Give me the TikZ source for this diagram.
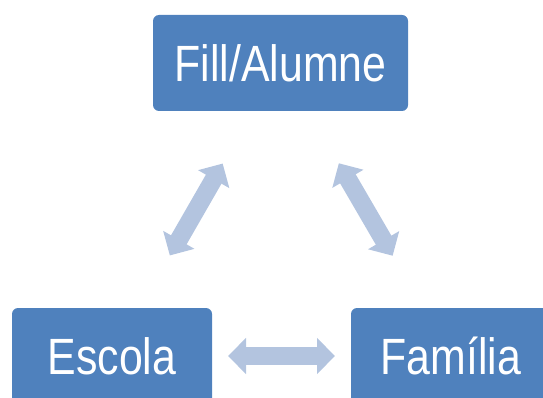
\documentclass[tikz,border=0pt]{standalone}
\usepackage{fontspec}
\setmainfont{Liberation Sans}[FakeStretch=0.84]
\usetikzlibrary{arrows.meta}
\definecolor{boxblue}{HTML}{4F81BD}
\definecolor{linkblue}{HTML}{B3C4DF}
\tikzset{
  role/.style={fill=boxblue, draw=none, rounded corners=6pt, text=white,
    minimum height=96pt, inner sep=0pt,
    font=\fontsize{51}{60}\selectfont},
  link/.style={draw=linkblue, line width=18pt,
    {Triangle[length=18pt,width=35pt]}-{Triangle[length=18pt,width=35pt]},
    shorten <=116pt, shorten >=116pt}
}
\begin{document}
\begin{tikzpicture}[x=1pt,y=-1pt]
  \useasboundingbox (0,0) rectangle (543,398);
  \clip (0,0) rectangle (543,398);
  \node[role, minimum width=255pt] (child) at (280.5,63) {Fill/Alumne};
  \node[role, minimum width=200pt] (school) at (112,356) {Escola};
  \node[role, minimum width=200pt] (family) at (451,356) {Família};
  \draw[link] (child.center) -- (school.center);
  \draw[link] (child.center) -- (family.center);
  \draw[link] (school.center) -- (family.center);
\end{tikzpicture}
\end{document}
